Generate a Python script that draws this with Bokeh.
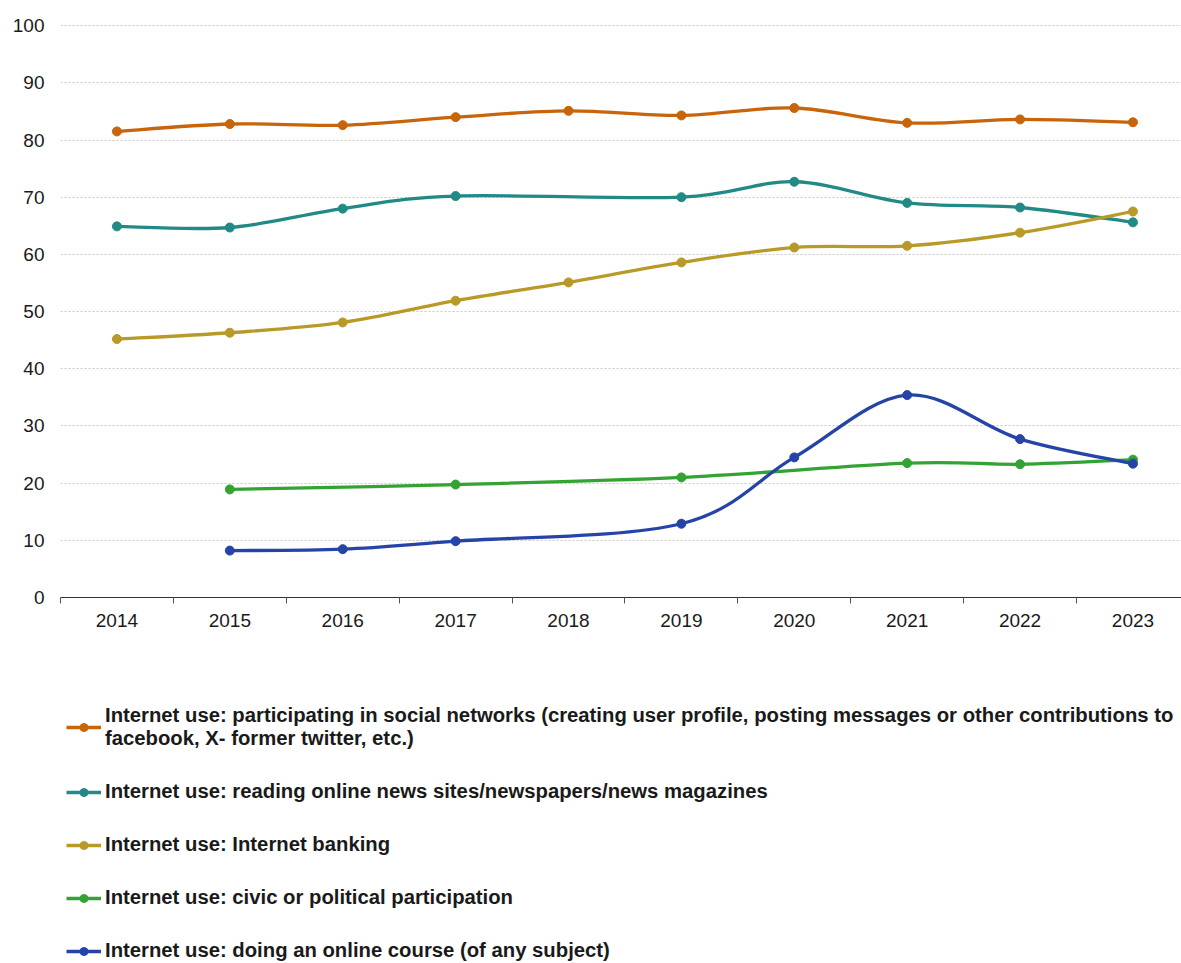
import math
from bokeh.plotting import figure
from bokeh.layouts import column
from bokeh.models import FixedTicker, Legend, LegendItem, Range1d
from bokeh.embed import file_html
from bokeh.resources import INLINE

years = [2014, 2015, 2016, 2017, 2018, 2019, 2020, 2021, 2022, 2023]
social = [81.5, 82.8, 82.6, 84.0, 85.1, 84.3, 85.6, 83.0, 83.6, 83.1]
news = [64.9, 64.7, 68.0, 70.2, None, 70.0, 72.7, 69.0, 68.2, 65.6]
banking = [45.2, 46.3, 48.1, 51.9, 55.1, 58.6, 61.2, 61.5, 63.8, 67.5]
civic = [None, 18.9, None, 19.75, None, 21.0, None, 23.5, 23.3, 24.1]
course = [None, 8.2, 8.45, 9.85, None, 12.9, 24.5, 35.4, 27.7, 23.4]

labels = [
    "Internet use: participating in social networks (creating user profile, posting messages or other contributions to\nfacebook, X- former twitter, etc.)",
    "Internet use: reading online news sites/newspapers/news magazines",
    "Internet use: Internet banking",
    "Internet use: civic or political participation",
    "Internet use: doing an online course (of any subject)",
]
series = [social, news, banking, civic, course]
colors = ["#C8640A", "#218A87", "#B89A28", "#33A333", "#2644A7"]

FONT = "Liberation Sans"
LW = 3.3

p = figure(frame_width=1121, frame_height=573, output_backend="svg", toolbar_location=None,
           min_border_left=60, min_border_right=0, min_border_top=24, min_border_bottom=40,
           x_range=Range1d(2013.5, 2023.43), y_range=Range1d(0, 100.2))
p.outline_line_color = None
p.background_fill_color = "white"
p.border_fill_color = "white"

p.xaxis.ticker = FixedTicker(ticks=years, minor_ticks=[y - 0.5 for y in years] + [2023.5])
p.xaxis.major_tick_out = 0
p.xaxis.major_tick_in = 0
p.xaxis.minor_tick_out = 6
p.xaxis.minor_tick_in = 0
p.xaxis.minor_tick_line_color = "#555555"
p.xaxis.axis_line_color = "#333333"
p.xaxis.axis_line_width = 1
p.xaxis.major_label_text_font = FONT
p.xaxis.major_label_text_font_size = "19px"
p.xaxis.major_label_text_color = "#1a1a1a"
p.xaxis.major_label_standoff = 10

p.yaxis.ticker = FixedTicker(ticks=list(range(0, 101, 10)))
p.yaxis.axis_line_color = None
p.yaxis.major_tick_line_color = None
p.yaxis.minor_tick_line_color = None
p.yaxis.major_label_text_font = FONT
p.yaxis.major_label_text_font_size = "19px"
p.yaxis.major_label_text_color = "#1a1a1a"
p.yaxis.major_label_standoff = 10

p.xgrid.grid_line_color = None
p.ygrid.grid_line_color = "#c8c8c8"
p.ygrid.grid_line_dash = "2 2"
p.ygrid.grid_line_width = 1


def bezier_segments(xs, ys, t=1.0 / 6):
    pts = [(x, y) for x, y in zip(xs, ys) if y is not None]
    n = len(pts)
    out = dict(x0=[], y0=[], x1=[], y1=[], cx0=[], cy0=[], cx1=[], cy1=[])
    for i in range(n - 1):
        p0 = pts[i - 1] if i > 0 else pts[i]
        p1 = pts[i]
        p2 = pts[i + 1]
        p3 = pts[i + 2] if i + 2 < n else pts[i + 1]
        out["x0"].append(p1[0]); out["y0"].append(p1[1])
        out["x1"].append(p2[0]); out["y1"].append(p2[1])
        out["cx0"].append(p1[0] + (p2[0] - p0[0]) * t)
        out["cy0"].append(p1[1] + (p2[1] - p0[1]) * t)
        out["cx1"].append(p2[0] - (p3[0] - p1[0]) * t)
        out["cy1"].append(p2[1] - (p3[1] - p1[1]) * t)
    return out, pts


for vals, col in zip(series, colors):
    seg, pts = bezier_segments(years, vals)
    p.bezier(x0="x0", y0="y0", x1="x1", y1="y1", cx0="cx0", cy0="cy0",
             cx1="cx1", cy1="cy1", source=seg, line_color=col, line_width=LW)
    p.scatter(x=[q[0] for q in pts], y=[q[1] for q in pts], size=9,
              fill_color=col, line_color=col)

# legend panel below the chart (its renderers hold the same series, kept out of view)
pl = figure(width=1181, height=326, output_backend="svg", toolbar_location=None,
            min_border=0, x_range=Range1d(0, 1), y_range=Range1d(0, 1))
pl.axis.visible = False
pl.grid.visible = False
pl.outline_line_color = None
pl.background_fill_color = "white"
pl.border_fill_color = "white"

items = []
for lab, vals, col in zip(labels, series, colors):
    xs = [x for x, v in zip(years, vals) if v is not None]
    ys = [v for v in vals if v is not None]
    lr = pl.line(x=xs, y=ys, line_color=col, line_width=LW)
    sr = pl.scatter(x=xs, y=ys, size=9, fill_color=col, line_color=col)
    items.append(LegendItem(label=lab, renderers=[lr, sr]))

legend = Legend(items=items, location=(6, 1), orientation="vertical",
                border_line_color=None, background_fill_alpha=0,
                padding=0, margin=0, spacing=30,
                glyph_width=35, glyph_height=20, label_height=20, label_standoff=4,
                label_text_font=FONT, label_text_font_size="20.3px",
                label_text_line_height=1.15,
                label_text_font_style="bold", label_text_color="#1a1a1a")
pl.add_layout(legend, "center")

open("out.html", "w").write(file_html(column(p, pl, spacing=0), INLINE))
